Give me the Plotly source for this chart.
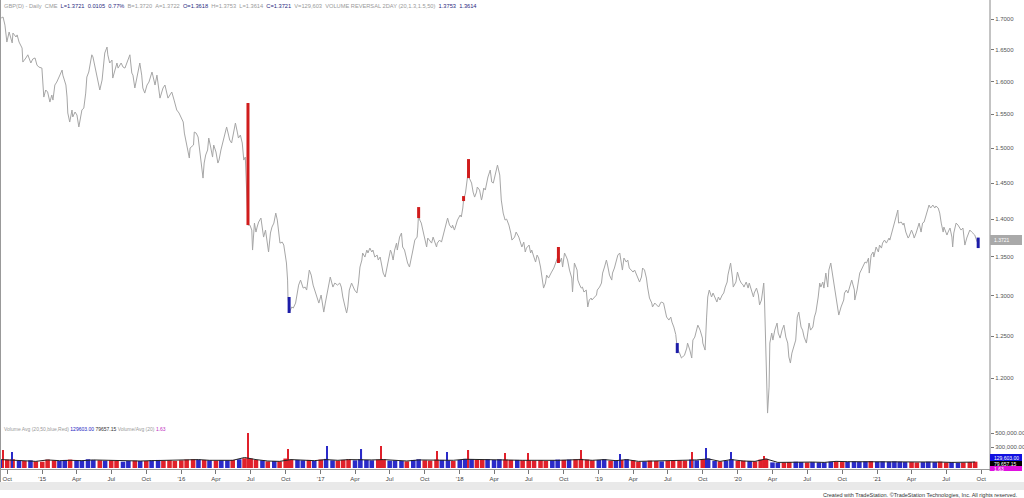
import math
from bisect import bisect_right
import plotly.graph_objects as go

# ---- GBP(D) daily closes ----
dates = [
    "2014-09-15", "2014-09-20", "2014-09-25", "2014-09-30", "2014-10-06", "2014-10-14", "2014-10-16", "2014-10-24",
    "2014-10-27", "2014-11-01", "2014-11-09", "2014-11-11", "2014-11-19", "2014-11-24", "2014-12-02", "2014-12-07",
    "2014-12-13", "2014-12-18", "2014-12-23", "2014-12-31", "2015-01-05", "2015-01-10", "2015-01-15", "2015-01-21",
    "2015-01-26", "2015-01-29", "2015-02-03", "2015-02-08", "2015-02-14", "2015-02-22", "2015-02-24", "2015-03-04",
    "2015-03-07", "2015-03-09", "2015-03-14", "2015-03-20", "2015-03-22", "2015-03-28", "2015-04-02", "2015-04-07",
    "2015-04-15", "2015-04-20", "2015-04-25", "2015-04-28", "2015-05-03", "2015-05-11", "2015-05-14", "2015-05-22",
    "2015-05-27", "2015-06-01", "2015-06-07", "2015-06-09", "2015-06-14", "2015-06-20", "2015-06-22", "2015-06-27",
    "2015-07-03", "2015-07-05", "2015-07-11", "2015-07-16", "2015-07-19", "2015-07-27", "2015-08-01", "2015-08-06",
    "2015-08-11", "2015-08-14", "2015-08-19", "2015-08-24", "2015-08-27", "2015-09-01", "2015-09-06", "2015-09-09",
    "2015-09-14", "2015-09-19", "2015-09-22", "2015-09-27", "2015-10-03", "2015-10-08", "2015-10-16", "2015-10-18",
    "2015-10-24", "2015-10-29", "2015-11-01", "2015-11-06", "2015-11-14", "2015-11-19", "2015-11-27", "2015-12-02",
    "2015-12-07", "2015-12-13", "2015-12-20", "2015-12-26",
    "2016-01-06", "2016-01-09", "2016-01-16", "2016-01-22", "2016-01-24", "2016-02-02", "2016-02-04", "2016-02-09",
    "2016-02-14", "2016-02-17", "2016-02-22", "2016-02-27", "2016-03-01", "2016-03-05", "2016-03-10", "2016-03-13",
    "2016-03-18", "2016-03-23", "2016-03-26", "2016-04-01", "2016-04-06", "2016-04-09", "2016-04-14", "2016-04-19",
    "2016-04-24", "2016-04-29", "2016-05-04", "2016-05-07", "2016-05-12", "2016-05-17", "2016-05-22", "2016-05-27",
    "2016-05-30", "2016-06-04", "2016-06-09", "2016-06-13", "2016-06-17", "2016-06-24", "2016-06-29", "2016-07-04",
    "2016-07-06", "2016-07-11", "2016-07-15", "2016-07-18", "2016-07-22", "2016-07-28", "2016-08-04", "2016-08-09",
    "2016-08-15", "2016-08-17", "2016-08-22", "2016-08-26", "2016-08-31", "2016-09-05", "2016-09-09", "2016-09-12",
    "2016-09-16", "2016-09-22", "2016-09-26", "2016-10-03", "2016-10-06", "2016-10-07", "2016-10-11", "2016-10-17",
    "2016-10-21", "2016-10-27", "2016-11-01", "2016-11-04", "2016-11-09", "2016-11-14", "2016-11-16", "2016-11-21",
    "2016-11-25", "2016-12-02", "2016-12-07", "2016-12-12", "2016-12-16", "2016-12-22", "2016-12-27",
    "2017-01-02", "2017-01-06", "2017-01-09", "2017-01-13", "2017-01-19", "2017-01-26", "2017-02-02", "2017-02-07",
    "2017-02-14", "2017-02-20", "2017-02-24", "2017-02-28", "2017-03-06", "2017-03-10", "2017-03-13", "2017-03-17",
    "2017-03-23", "2017-03-27", "2017-03-31", "2017-04-06", "2017-04-10", "2017-04-14", "2017-04-19", "2017-04-21",
    "2017-04-27", "2017-05-02", "2017-05-05", "2017-05-10", "2017-05-15", "2017-05-18", "2017-05-23", "2017-05-29",
    "2017-06-01", "2017-06-06", "2017-06-12", "2017-06-14", "2017-06-19", "2017-06-23", "2017-06-27", "2017-07-03",
    "2017-07-06", "2017-07-10", "2017-07-14", "2017-07-19", "2017-07-21", "2017-07-27", "2017-08-01", "2017-08-04",
    "2017-08-09", "2017-08-14", "2017-08-17", "2017-08-22", "2017-08-28", "2017-08-31", "2017-09-05", "2017-09-11",
    "2017-09-13", "2017-09-15", "2017-09-18", "2017-09-22", "2017-09-26", "2017-10-02", "2017-10-06", "2017-10-09",
    "2017-10-13", "2017-10-19", "2017-10-23", "2017-10-27", "2017-11-01", "2017-11-03", "2017-11-09", "2017-11-14",
    "2017-11-17", "2017-11-22", "2017-11-27", "2017-11-30", "2017-12-05", "2017-12-11", "2017-12-13", "2017-12-18",
    "2017-12-22", "2017-12-26",
    "2018-01-02", "2018-01-05", "2018-01-09", "2018-01-11", "2018-01-16", "2018-01-19", "2018-01-24", "2018-01-26",
    "2018-02-01", "2018-02-05", "2018-02-09", "2018-02-14", "2018-02-16", "2018-02-22", "2018-02-27", "2018-03-01",
    "2018-03-05", "2018-03-09", "2018-03-13", "2018-03-16", "2018-03-22", "2018-03-26", "2018-03-30", "2018-04-05",
    "2018-04-10", "2018-04-16", "2018-04-20", "2018-04-25", "2018-04-30", "2018-05-04", "2018-05-10", "2018-05-15",
    "2018-05-18", "2018-05-25", "2018-05-29", "2018-06-05", "2018-06-11", "2018-06-13", "2018-06-18", "2018-06-22",
    "2018-06-25", "2018-07-02", "2018-07-06", "2018-07-09", "2018-07-13", "2018-07-19", "2018-07-23", "2018-07-27",
    "2018-08-01", "2018-08-03", "2018-08-09", "2018-08-14", "2018-08-17", "2018-08-22", "2018-08-27", "2018-08-30",
    "2018-09-05", "2018-09-10", "2018-09-17", "2018-09-21", "2018-09-25", "2018-09-28", "2018-10-03", "2018-10-08",
    "2018-10-11", "2018-10-16", "2018-10-22", "2018-10-24", "2018-10-29", "2018-11-05", "2018-11-07", "2018-11-12",
    "2018-11-16", "2018-11-19", "2018-11-23", "2018-11-29", "2018-12-03", "2018-12-07", "2018-12-12", "2018-12-14",
    "2018-12-20", "2018-12-26", "2018-12-28",
    "2019-01-03", "2019-01-08", "2019-01-11", "2019-01-16", "2019-01-21", "2019-01-24", "2019-01-29", "2019-02-04",
    "2019-02-06", "2019-02-11", "2019-02-15", "2019-02-20", "2019-02-25", "2019-03-01", "2019-03-04", "2019-03-08",
    "2019-03-14", "2019-03-18", "2019-03-22", "2019-03-27", "2019-04-01", "2019-04-05", "2019-04-10", "2019-04-12",
    "2019-04-18", "2019-04-23", "2019-04-26", "2019-05-01", "2019-05-06", "2019-05-09", "2019-05-14", "2019-05-20",
    "2019-05-22", "2019-05-28", "2019-06-03", "2019-06-07", "2019-06-12", "2019-06-14", "2019-06-20", "2019-06-25",
    "2019-06-28", "2019-07-04", "2019-07-09", "2019-07-12", "2019-07-17", "2019-07-22", "2019-07-24", "2019-07-26",
    "2019-08-01", "2019-08-06", "2019-08-09", "2019-08-14", "2019-08-20", "2019-08-22", "2019-08-28", "2019-09-02",
    "2019-09-05", "2019-09-10", "2019-09-16", "2019-09-18", "2019-09-24", "2019-09-30", "2019-10-01", "2019-10-07",
    "2019-10-11", "2019-10-14", "2019-10-18", "2019-10-24", "2019-10-28", "2019-11-01", "2019-11-07", "2019-11-11",
    "2019-11-15", "2019-11-21", "2019-11-25", "2019-11-29", "2019-12-04", "2019-12-06", "2019-12-11", "2019-12-13",
    "2019-12-18", "2019-12-20", "2019-12-27", "2019-12-31",
    "2020-01-06", "2020-01-10", "2020-01-15", "2020-01-17", "2020-01-23", "2020-01-28", "2020-01-31", "2020-02-06",
    "2020-02-11", "2020-02-13", "2020-02-19", "2020-02-24", "2020-02-27", "2020-03-03", "2020-03-09", "2020-03-11",
    "2020-03-13", "2020-03-16", "2020-03-18", "2020-03-19", "2020-03-23", "2020-03-25", "2020-03-30", "2020-04-02",
    "2020-04-07", "2020-04-13", "2020-04-16", "2020-04-21", "2020-04-26", "2020-05-01", "2020-05-06", "2020-05-11",
    "2020-05-14", "2020-05-18", "2020-05-22", "2020-05-27", "2020-06-01", "2020-06-05", "2020-06-09", "2020-06-15",
    "2020-06-19", "2020-06-23", "2020-06-29", "2020-07-03", "2020-07-06", "2020-07-10", "2020-07-16", "2020-07-20",
    "2020-07-24", "2020-07-30", "2020-08-03", "2020-08-06", "2020-08-11", "2020-08-14", "2020-08-19", "2020-08-24",
    "2020-08-27", "2020-09-01", "2020-09-04", "2020-09-08", "2020-09-14", "2020-09-18", "2020-09-22", "2020-09-28",
    "2020-10-05", "2020-10-07", "2020-10-12", "2020-10-16", "2020-10-20", "2020-10-26", "2020-11-02", "2020-11-03",
    "2020-11-09", "2020-11-13", "2020-11-16", "2020-11-20", "2020-11-25", "2020-11-30", "2020-12-04", "2020-12-09",
    "2020-12-11", "2020-12-16", "2020-12-21", "2020-12-23", "2020-12-29",
    "2021-01-04", "2021-01-07", "2021-01-12", "2021-01-15", "2021-01-20", "2021-01-25", "2021-02-01", "2021-02-03",
    "2021-02-08", "2021-02-12", "2021-02-16", "2021-02-19", "2021-02-24", "2021-02-26", "2021-03-05", "2021-03-10",
    "2021-03-12", "2021-03-17", "2021-03-23", "2021-03-25", "2021-04-01", "2021-04-06", "2021-04-08", "2021-04-13",
    "2021-04-19", "2021-04-21", "2021-04-26", "2021-04-30", "2021-05-04", "2021-05-10", "2021-05-14", "2021-05-17",
    "2021-05-21", "2021-05-27", "2021-06-01", "2021-06-04", "2021-06-10", "2021-06-14", "2021-06-18", "2021-06-23",
    "2021-06-25", "2021-06-28", "2021-07-03", "2021-07-06", "2021-07-11", "2021-07-16", "2021-07-18", "2021-07-21",
    "2021-07-27", "2021-08-01", "2021-08-04", "2021-08-09", "2021-08-14", "2021-08-17", "2021-08-19", "2021-08-24",
    "2021-08-27", "2021-09-01", "2021-09-06", "2021-09-09", "2021-09-14", "2021-09-20", "2021-09-23",
]
close = [
    1.7017, 1.7033, 1.6900, 1.6625, 1.6787, 1.6610, 1.6770, 1.6706,
    1.6740, 1.6625, 1.6528, 1.6305, 1.6370, 1.6420, 1.6290, 1.6353,
    1.6370, 1.6258, 1.6226, 1.6210, 1.5761, 1.5869, 1.5838, 1.5685,
    1.5792, 1.5715, 1.5946, 1.5992, 1.6070, 1.6179, 1.6100, 1.5946,
    1.5761, 1.5519, 1.5384, 1.5564, 1.5459, 1.5534, 1.5489, 1.5310,
    1.5564, 1.5594, 1.5822, 1.6070, 1.6148, 1.6420, 1.6386, 1.6148,
    1.5977, 1.5869, 1.6023, 1.6132, 1.6448, 1.6544, 1.6420, 1.6290,
    1.6337, 1.6054, 1.6210, 1.6290, 1.6210, 1.6290, 1.6226, 1.6210,
    1.6290, 1.6337, 1.6420, 1.6132, 1.6100, 1.5900, 1.6070, 1.6179,
    1.6290, 1.6100, 1.5900, 1.5822, 1.5946, 1.5992, 1.6148, 1.6100,
    1.5946, 1.6100, 1.5992, 1.5745, 1.5900, 1.5946, 1.5745, 1.5792,
    1.5838, 1.5715, 1.5564, 1.5519,
    1.5384, 1.5220, 1.5045, 1.4856, 1.5001, 1.5045, 1.5235, 1.5220,
    1.5162, 1.5016, 1.4870, 1.4570, 1.4784, 1.4900, 1.4972, 1.5147,
    1.5016, 1.4870, 1.5045, 1.4943, 1.4784, 1.4827, 1.4972, 1.5074,
    1.5191, 1.5310, 1.5191, 1.5118, 1.5074, 1.5220, 1.5369, 1.5235,
    1.5147, 1.5191, 1.5074, 1.4827, 1.4870, 1.3921, 1.3921, 1.3854,
    1.3588, 1.3948, 1.3827, 1.3894, 1.3962, 1.4016, 1.3760, 1.3854,
    1.3628, 1.3562, 1.3814, 1.3894, 1.3948, 1.4084, 1.3989, 1.3854,
    1.3680, 1.3693, 1.3654, 1.3418, 1.3198, 1.2983, 1.2795, 1.2858,
    1.2845, 1.2907, 1.3033, 1.3134, 1.3198, 1.3109, 1.3096, 1.3109,
    1.3071, 1.3327, 1.3262, 1.3134, 1.3071, 1.3008, 1.2907,
    1.3008, 1.2907, 1.2795, 1.2907, 1.3071, 1.3237, 1.3109, 1.3160,
    1.3134, 1.3160, 1.3109, 1.2983, 1.2858, 1.2783, 1.2858, 1.3071,
    1.3160, 1.3109, 1.3071, 1.3033, 1.3160, 1.3366, 1.3457, 1.3549,
    1.3496, 1.3588, 1.3549, 1.3614, 1.3562, 1.3588, 1.3496, 1.3522,
    1.3457, 1.3496, 1.3353, 1.3288, 1.3237, 1.3327, 1.3457, 1.3588,
    1.3549, 1.3457, 1.3588, 1.3680, 1.3588, 1.3760, 1.3814, 1.3628,
    1.3588, 1.3457, 1.3418, 1.3366, 1.3496, 1.3588, 1.3720, 1.3760,
    1.3894, 1.4100, 1.3989, 1.3948, 1.3854, 1.3720, 1.3628, 1.3747,
    1.3720, 1.3680, 1.3760, 1.3693, 1.3628, 1.3680, 1.3720, 1.3693,
    1.3760, 1.3854, 1.3989, 1.4016, 1.3921, 1.3881, 1.3921, 1.3854,
    1.3921, 1.3989,
    1.4057, 1.4030, 1.4153, 1.4263, 1.4360, 1.4500, 1.4700, 1.4570,
    1.4500, 1.4374, 1.4304, 1.4374, 1.4444, 1.4402, 1.4263, 1.4304,
    1.4430, 1.4402, 1.4500, 1.4585, 1.4684, 1.4514, 1.4500, 1.4655,
    1.4755, 1.4613, 1.4263, 1.4084, 1.3989, 1.4002, 1.3921, 1.3814,
    1.3720, 1.3760, 1.3827, 1.3760, 1.3680, 1.3628, 1.3693, 1.3562,
    1.3614, 1.3654, 1.3549, 1.3588, 1.3522, 1.3431, 1.3522, 1.3483,
    1.3366, 1.3288, 1.3096, 1.3160, 1.3262, 1.3224, 1.3262, 1.3301,
    1.3353, 1.3418, 1.3520, 1.3431, 1.3483, 1.3366, 1.3549, 1.3496,
    1.3457, 1.3327, 1.3224, 1.3046, 1.3418, 1.3327, 1.3198, 1.3134,
    1.3096, 1.3109, 1.3046, 1.3071, 1.2858, 1.2945, 1.2970, 1.2945,
    1.2983, 1.3008, 1.3071,
    1.3109, 1.3160, 1.3288, 1.3366, 1.3457, 1.3392, 1.3262, 1.3198,
    1.3288, 1.3353, 1.3431, 1.3522, 1.3549, 1.3418, 1.3327, 1.3483,
    1.3431, 1.3457, 1.3353, 1.3327, 1.3301, 1.3327, 1.3262, 1.3224,
    1.3173, 1.3237, 1.3353, 1.3327, 1.3224, 1.3109, 1.2970, 1.2907,
    1.2858, 1.2907, 1.2883, 1.2858, 1.2907, 1.2920, 1.2907, 1.2795,
    1.2733, 1.2696, 1.2733, 1.2671, 1.2610, 1.2520, 1.2450, 1.2350,
    1.2296, 1.2237, 1.2249, 1.2272, 1.2356, 1.2416, 1.2332, 1.2237,
    1.2452, 1.2488, 1.2598, 1.2634, 1.2573, 1.2476, 1.2416, 1.2332,
    1.2733, 1.2983, 1.3071, 1.2983, 1.3033, 1.2983, 1.2920, 1.2983,
    1.2945, 1.3008, 1.3033, 1.3109, 1.3173, 1.3262, 1.3353, 1.3418,
    1.3224, 1.3109, 1.3173, 1.3301,
    1.3198, 1.3160, 1.3134, 1.3109, 1.3173, 1.3096, 1.3160, 1.3071,
    1.2983, 1.3033, 1.3096, 1.3008, 1.2883, 1.2945, 1.3160, 1.2945,
    1.2537, 1.2130, 1.1635, 1.1601, 1.1897, 1.2416, 1.2537, 1.2452,
    1.2573, 1.2659, 1.2537, 1.2476, 1.2573, 1.2634, 1.2488, 1.2416,
    1.2249, 1.2178, 1.2296, 1.2368, 1.2452, 1.2733, 1.2795, 1.2610,
    1.2573, 1.2488, 1.2416, 1.2549, 1.2659, 1.2573, 1.2610, 1.2733,
    1.2795, 1.2983, 1.3160, 1.3109, 1.3173, 1.3096, 1.3288, 1.3109,
    1.3327, 1.3418, 1.3327, 1.3160, 1.2983, 1.2907, 1.2758, 1.2858,
    1.2945, 1.3033, 1.3071, 1.3033, 1.3109, 1.3198, 1.3071, 1.2945,
    1.3071, 1.3224, 1.3288, 1.3327, 1.3392, 1.3431, 1.3418, 1.3483,
    1.3288, 1.3522, 1.3562, 1.3496, 1.3628,
    1.3562, 1.3654, 1.3614, 1.3680, 1.3720, 1.3680, 1.3747, 1.3720,
    1.3814, 1.3881, 1.3948, 1.4016, 1.4125, 1.3948, 1.3962, 1.3921,
    1.3948, 1.3827, 1.3747, 1.3760, 1.3854, 1.3787, 1.3747, 1.3814,
    1.3894, 1.3948, 1.3827, 1.3948, 1.3962, 1.4084, 1.4153, 1.4194,
    1.4153, 1.4194, 1.4153, 1.4180, 1.4153, 1.4084, 1.3948, 1.3827,
    1.3894, 1.3854, 1.3787, 1.3827, 1.3881, 1.3760, 1.3628, 1.3814,
    1.3948, 1.3921, 1.3894, 1.3854, 1.3881, 1.3760, 1.3654, 1.3747,
    1.3787, 1.3854, 1.3827, 1.3814, 1.3787, 1.3700, 1.3721,
]

# volume reversal paint bars (high / low of the painted bar)
sig_dates = ["2016-06-24", "2016-10-10", "2017-09-15", "2018-01-11", "2018-01-24", "2018-09-17", "2019-07-26", "2021-09-23"]
sig_high = [1.5670, 1.2983, 1.4166, 1.4318, 1.4841, 1.3628, 1.2416, 1.3753]
sig_low = [1.3921, 1.2783, 1.4016, 1.4249, 1.4570, 1.3418, 1.2296, 1.3614]
sig_side = ["dn", "up", "dn", "dn", "dn", "dn", "up", "up"]

# volume, half-month reads (thousands), starting 2014-09-15 then 1st / 15th of each month
vol_k = [
    115,
    120, 125, 105, 100, 110, 95,
    90, 120, 110, 100, 115, 120, 110, 105, 125, 115, 110, 105,
    110, 100, 90, 100, 105, 100, 100, 110, 115, 105, 110, 100,
    110, 120, 125, 120, 115, 110, 105, 110, 110, 115, 125, 140,
    135, 115, 110, 95, 100, 95, 135, 120, 115, 110, 115, 100,
    120, 130, 110, 105, 115, 125, 110, 125, 115, 110, 120, 125,
    105, 110, 100, 95, 115, 125, 110, 105, 120, 115, 110, 100,
    115, 130, 125, 115, 120, 125, 115, 125, 120, 115, 115, 110,
    110, 105, 110, 100, 110, 120, 115, 120, 125, 130, 120, 110,
    115, 125, 105, 110, 115, 125, 110, 90, 95, 105, 100, 95,
    100, 105, 110, 105, 120, 110, 125, 135, 100, 95, 105, 125,
    100, 105, 100, 95, 120, 130, 80, 75, 80, 85, 90, 85,
    80, 85, 80, 80, 90, 95, 85, 90, 95, 90, 95, 100,
    90, 95, 90, 95, 90, 85, 85, 80, 85, 90, 85, 90,
    80, 85, 75, 80, 85, 90,
]
# single heavy-volume days that stick out of the strip
spike_dates = ["2014-09-20", "2014-10-14", "2016-06-24", "2016-10-07", "2017-01-17", "2017-04-18", "2017-06-09",
               "2017-11-02", "2017-11-28", "2018-01-24", "2018-04-30", "2018-06-28", "2018-11-15", "2019-02-26",
               "2019-09-03", "2019-10-10", "2019-12-13", "2020-03-09"]
spike_k = [257, 229, 500, 271, 314, 271, 314, 243, 229, 257, 214, 214, 257, 200, 229, 286, 229, 171]
spike_side = ["dn", "up", "dn", "dn", "up", "up", "dn", "dn", "up", "dn", "dn", "dn", "dn", "up",
              "dn", "up", "up", "dn"]
# volume average line, monthly reads (thousands)
avg_k = [
    120, 110, 100, 95, 115, 105, 110, 105, 115, 110,
    100, 95, 100, 105, 110, 105, 115, 120, 110, 105,
    110, 150, 120, 100, 95, 120, 115, 105, 120, 110,
    120, 115, 115, 120, 105, 100, 115, 110, 105, 110,
    125, 120, 115, 120, 115, 110, 110, 105, 110, 115,
    120, 110, 120, 105, 120, 95, 100, 95, 100, 105,
    115, 130, 95, 120, 100, 95, 130, 80, 85, 90,
    85, 80, 95, 90, 90, 95, 90, 95, 90, 85,
    85, 85, 80, 80, 85,
]

q_ticks = [
    "2014-10-01", "2015-01-01", "2015-04-01", "2015-07-01", "2015-10-01", "2016-01-01", "2016-04-01", "2016-07-01",
    "2016-10-01", "2017-01-01", "2017-04-01", "2017-07-01", "2017-10-01", "2018-01-01", "2018-04-01", "2018-07-01",
    "2018-10-01", "2019-01-01", "2019-04-01", "2019-07-01", "2019-10-01", "2020-01-01", "2020-04-01", "2020-07-01",
    "2020-10-01", "2021-01-01", "2021-04-01", "2021-07-01", "2021-10-01",
]
q_text = [
    "Oct", "'15", "Apr", "Jul", "Oct", "'16", "Apr", "Jul", "Oct", "'17", "Apr", "Jul", "Oct", "'18", "Apr", "Jul",
    "Oct", "'19", "Apr", "Jul", "Oct", "'20", "Apr", "Jul", "Oct", "'21", "Apr", "Jul", "Oct",
]
price_ticks = [1.20, 1.25, 1.30, 1.35, 1.40, 1.45, 1.50, 1.55, 1.60, 1.65, 1.70]

W, H = 1024, 498
FONT = "Liberation Sans"
RED = "#d01c1c"
BLUE = "#1c1ca8"
VRED = "#e0202a"
VBLUE = "#2a2ac8"
NAVY = "#2a2a80"
GREY = "#9a9a9a"
DAY = 86400000


def px_x(p):
    return p / W


def px_y(p):
    return 1 - p / H


def span(txt, col):
    return "<span style='color:%s'>%s</span>" % (col, txt)


def close_at(d):
    i = bisect_right(dates, d) - 1
    return close[max(i, 0)]


# half-month volume dates
vol_dates = ["2014-09-15"]
for y in range(2014, 2022):
    for m in range(1, 13):
        if (y == 2014 and m < 10) or (y == 2021 and m > 9):
            continue
        vol_dates += ["%d-%02d-01" % (y, m), "%d-%02d-15" % (y, m)]
vol_dates = vol_dates[:len(vol_k)]
vol_col = []
prev = close[0]
for d in vol_dates:
    c = close_at(d)
    vol_col.append(VBLUE if c >= prev else VRED)
    prev = c

avg_dates = ["2014-09-15"] + [d for d in vol_dates[1:] if d.endswith("-15")]
avg_dates = avg_dates[:len(avg_k)]

fig = go.Figure()

fig.add_trace(go.Scatter(x=dates, y=close, mode="lines", line=dict(color="#a6a6a6", width=1),
                         xaxis="x", yaxis="y", hoverinfo="skip"))

for side, col in (("dn", RED), ("up", BLUE)):
    xs, ys = [], []
    for d, hi, lo, s in zip(sig_dates, sig_high, sig_low, sig_side):
        if s == side:
            xs += [d, d, None]
            ys += [lo, hi, None]
    fig.add_trace(go.Scatter(x=xs, y=ys, mode="lines", line=dict(color=col, width=3),
                             xaxis="x", yaxis="y", hoverinfo="skip"))

fig.add_trace(go.Bar(x=vol_dates, y=[v * 1000 for v in vol_k], marker=dict(color=vol_col, line_width=0),
                     width=[12 * DAY] * len(vol_dates), xaxis="x", yaxis="y2", hoverinfo="skip"))
fig.add_trace(go.Bar(x=spike_dates, y=[v * 1000 for v in spike_k],
                     marker=dict(color=[VBLUE if s == "up" else VRED for s in spike_side], line_width=0),
                     width=[3 * DAY] * len(spike_dates), xaxis="x", yaxis="y2", hoverinfo="skip"))
fig.add_trace(go.Scatter(x=avg_dates, y=[v * 1000 for v in avg_k], mode="lines",
                         line=dict(color="#222222", width=1), xaxis="x", yaxis="y2", hoverinfo="skip"))

fig.update_layout(
    width=W, height=H, margin=dict(l=0, r=0, t=0, b=0),
    paper_bgcolor="white", plot_bgcolor="white", showlegend=False, barmode="overlay",
    font=dict(family=FONT, size=6, color="#555"),
    xaxis=dict(domain=[0, 990 / W], range=["2014-09-12", "2021-10-24"], anchor="y2",
               tickvals=q_ticks, ticktext=q_text, ticks="outside", ticklen=4, tickcolor="#777",
               tickfont=dict(size=6, color="#444"), showgrid=False, zeroline=False,
               showline=True, linecolor="#999", linewidth=1, automargin=False),
    yaxis=dict(type="log", domain=[px_y(422), px_y(12)],
               range=[math.log10(1.1501), math.log10(1.7116)], side="right", anchor="x",
               tickvals=price_ticks, ticktext=["%.4f" % t for t in price_ticks],
               ticks="outside", ticklen=3, tickcolor="#777", tickfont=dict(size=6, color="#555"),
               showgrid=False, zeroline=False, showline=False, automargin=False),
    yaxis2=dict(domain=[px_y(469), px_y(426)], range=[-14286, 600000], side="right", anchor="x",
                tickvals=[300000, 500000], ticktext=["300,000.00", "500,000.00"],
                ticks="outside", ticklen=3, tickcolor="#777", tickfont=dict(size=6, color="#555"),
                showgrid=False, zeroline=False, showline=False, automargin=False),
)

shapes = [
    dict(type="line", xref="paper", yref="paper", x0=px_x(990), x1=px_x(990), y0=px_y(471), y1=1,
         line=dict(color="#888", width=1)),
    dict(type="line", xref="paper", yref="paper", x0=px_x(0.5), x1=px_x(0.5), y0=px_y(490), y1=1,
         line=dict(color="#999", width=1)),
    dict(type="rect", xref="paper", yref="paper", x0=0, x1=1, y0=px_y(490), y1=px_y(482),
         fillcolor="#e9e9e9", line_width=0),
    # last price tag
    dict(type="rect", xref="paper", yref="paper", x0=px_x(990), x1=px_x(1022), y0=px_y(245), y1=px_y(235),
         fillcolor="#a9a9a9", line_width=0),
    # volume tags
    dict(type="rect", xref="paper", yref="paper", x0=px_x(990), x1=px_x(1022), y0=px_y(461), y1=px_y(454),
         fillcolor="#1010e0", line_width=0),
    dict(type="rect", xref="paper", yref="paper", x0=px_x(990), x1=px_x(1022), y0=px_y(466), y1=px_y(461),
         fillcolor="#000000", line_width=0),
    dict(type="rect", xref="paper", yref="paper", x0=px_x(990), x1=px_x(1022), y0=px_y(471), y1=px_y(466),
         fillcolor="#e010e0", line_width=0),
]
fig.update_layout(shapes=shapes)

gap = "&nbsp;&nbsp;"
header = gap.join([
    span("GBP(D) - Daily", GREY), span("CME", GREY), span("L=1.3721", NAVY), span("0.0105", NAVY),
    span("0.77%", NAVY), span("B=1.3720", GREY), span("A=1.3722", GREY), span("O=1.3618", NAVY),
    span("H=1.3753", GREY), span("L=1.3614", GREY), span("C=1.3721", NAVY), span("V=129,603", GREY),
    span("VOLUME REVERSAL 2DAY (20,1.3,1.5,50)", GREY), span("1.3753", NAVY), span("1.3614", NAVY),
])
vol_header = "&nbsp;".join([
    span("Volume Avg (20,50,blue,Red)", GREY), span("129603.00", "#2020c0"), span("79657.15", "#333"),
    span("Volume/Avg (20)", GREY), span("1.63", "#c030c0"),
])

ann = [
    dict(xref="paper", yref="paper", x=px_x(2), y=px_y(5.5), text=header, showarrow=False,
         xanchor="left", yanchor="middle", font=dict(size=5.7, family=FONT)),
    dict(xref="paper", yref="paper", x=px_x(2), y=px_y(429), text=vol_header, showarrow=False,
         xanchor="left", yanchor="middle", font=dict(size=5, family=FONT)),
]

tags = [(240, "1.3721"), (457.5, "129,603.00"), (463.5, "79,657.15"), (468.5, "1.63")]
for yy, txt in tags:
    ann.append(dict(xref="paper", yref="paper", x=px_x(992), y=px_y(yy), text=txt, showarrow=False,
                    xanchor="left", yanchor="middle", font=dict(size=5, color="white", family=FONT)))

ann.append(dict(xref="paper", yref="paper", x=px_x(1020), y=px_y(494.5),
                text="Created with TradeStation. \u00a9TradeStation Technologies, Inc. All rights reserved.",
                showarrow=False, xanchor="right", yanchor="middle", font=dict(size=5.5, color="#333", family=FONT)))
fig.update_layout(annotations=ann)

fig.write_html("out.html", config={"displayModeBar": False},
               post_script="document.body.style.margin='0';")
